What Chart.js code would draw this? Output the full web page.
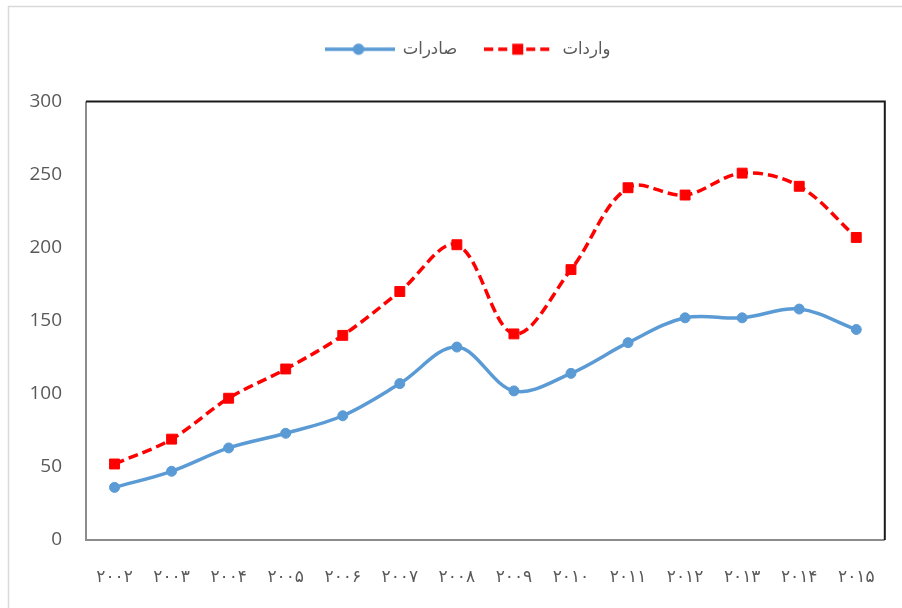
<!DOCTYPE html>
<html>
<head>
<meta charset="utf-8">
<script src="https://cdn.jsdelivr.net/npm/chart.js@4/dist/chart.umd.min.js"></script>
<style>
html,body{margin:0;padding:0;background:#fff;}
#wrap{width:902px;height:608px;position:relative;}
</style>
</head>
<body>
<div id="wrap"><canvas id="c" width="902" height="608"></canvas></div>
<script>
const years = ['۲۰۰۲','۲۰۰۳','۲۰۰۴','۲۰۰۵','۲۰۰۶','۲۰۰۷','۲۰۰۸','۲۰۰۹','۲۰۱۰','۲۰۱۱','۲۰۱۲','۲۰۱۳','۲۰۱۴','۲۰۱۵'];
const exportsLabel = 'صادرات';
const importsLabel = 'واردات';
const exportsValues = [36, 47, 63, 73, 85, 107, 132, 102, 114, 135, 152, 152, 158, 144];
const importsValues = [52, 69, 97, 117, 140, 170, 202, 141, 185, 241, 236, 251, 242, 207];
const yTicks = [0, 50, 100, 150, 200, 250, 300];

const BLUE = '#5B9BD5';
const RED = '#FF0000';
const TEXT = '#595959';

function legendSymbol(color, dashed, shape){
  const cv = document.createElement('canvas');
  cv.width = 70; cv.height = 14;
  const g = cv.getContext('2d');
  g.strokeStyle = color; g.fillStyle = color; g.lineWidth = 3.5;
  if (dashed) g.setLineDash([9,5]);
  g.beginPath(); g.moveTo(0,7); g.lineTo(70,7); g.stroke();
  g.setLineDash([]);
  if (shape === 'circle'){ g.beginPath(); g.arc(34,7,5.8,0,Math.PI*2); g.fill(); }
  else { g.fillRect(28,1.5,11,11); }
  return cv;
}
const symExports = legendSymbol(BLUE, false, 'circle');
const symImports = legendSymbol(RED, true, 'rect');

const framePlugin = {
  id: 'frame',
  afterLayout(chart){
    const lg = chart.legend;
    if (lg){
      lg.top -= 34; lg.bottom -= 34;
      lg.left += 10; lg.right += 10;
    }
  },
  beforeDraw(chart){
    const ctx = chart.ctx;
    ctx.save();
    ctx.strokeStyle = '#d9d9d9'; ctx.lineWidth = 1.5;
    ctx.strokeRect(8.5, 6.5, 1000, 1000);
    ctx.restore();
  },
  afterDraw(chart){
    const a = chart.chartArea, ctx = chart.ctx;
    ctx.save();
    ctx.lineWidth = 2;
    ctx.strokeStyle = '#8c8c8c';
    ctx.beginPath(); ctx.moveTo(a.left, a.top); ctx.lineTo(a.left, a.bottom); ctx.lineTo(a.right, a.bottom); ctx.stroke();
    ctx.strokeStyle = '#1a1a1a';
    ctx.beginPath(); ctx.moveTo(a.left, a.top); ctx.lineTo(a.right, a.top); ctx.lineTo(a.right, a.bottom); ctx.stroke();
    ctx.restore();
  }
};

new Chart(document.getElementById('c'), {
  type: 'line',
  data: {
    labels: years,
    datasets: [
      {
        label: exportsLabel, data: exportsValues,
        borderColor: BLUE, backgroundColor: BLUE, borderWidth: 3.5,
        pointRadius: 5, pointBorderWidth: 1, pointBackgroundColor: BLUE, pointBorderColor: BLUE,
        pointStyle: 'circle', tension: 0.35, fill: false
      },
      {
        label: importsLabel, data: importsValues,
        borderColor: RED, backgroundColor: RED, borderWidth: 3.5, borderDash: [10,5],
        pointRadius: 7, pointBorderWidth: 1, pointBackgroundColor: RED, pointBorderColor: RED,
        pointStyle: 'rect', tension: 0.35, fill: false
      }
    ]
  },
  options: {
    responsive: false,
    animation: false,
    devicePixelRatio: 1,
    layout: { padding: { left: 26, right: 13, top: 48, bottom: 10 } },
    plugins: {
      tooltip: { enabled: false },
      legend: {
        position: 'top',
        align: 'center',
        labels: {
          usePointStyle: true,
          pointStyleWidth: 70,
          boxHeight: 14,
          padding: 27,
          color: TEXT,
          font: { family: "'DejaVu Sans', sans-serif", size: 16.5 },
          generateLabels(chart){
            return chart.data.datasets.map((ds, i) => ({
              text: ds.label, fillStyle: ds.borderColor, strokeStyle: ds.borderColor,
              pointStyle: i === 0 ? symExports : symImports, lineWidth: 0,
              hidden: false, datasetIndex: i, fontColor: TEXT
            }));
          }
        }
      }
    },
    scales: {
      x: {
        offset: true,
        grid: { display: false, drawTicks: false },
        border: { display: false },
        ticks: { color: TEXT, font: { family: "'DejaVu Sans', sans-serif", size: 17 }, padding: 27, maxRotation: 0, autoSkip: false },
        afterFit(s){ s.height = 58; }
      },
      y: {
        min: 0, max: 300,
        afterBuildTicks(s){ s.ticks = yTicks.map(v => ({ value: v })); },
        grid: { display: false, drawTicks: false },
        border: { display: false },
        ticks: { color: TEXT, font: { family: "'Open Sans', sans-serif", size: 19 }, padding: 24 },
        afterFit(s){ s.width = 60; }
      }
    }
  },
  plugins: [framePlugin]
});
</script>
</body>
</html>
